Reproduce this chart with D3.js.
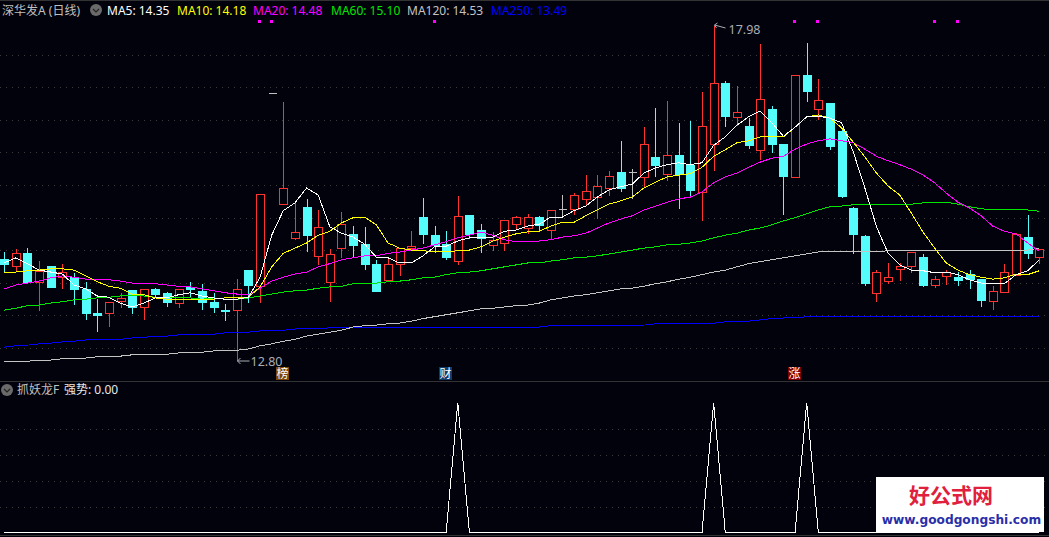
<!DOCTYPE html>
<html>
<head>
<meta charset="utf-8">
<script src="https://cdn.jsdelivr.net/npm/d3@7"></script>
<style>
  html, body { margin: 0; padding: 0; background: #02020c; overflow: hidden; }
  svg { display: block; }
  text { font-family: "Noto Sans", "Noto Sans CJK SC", sans-serif; font-size: 12px; }
</style>
</head>
<body>
<div id="viz"></div>
<script>
// daily candles
var opens = [14.36,14.25,14.45,14.01,14.25,14.08,14.08,13.90,13.53,13.53,13.71,13.88,13.62,13.90,13.84,13.68,13.93,13.87,13.70,13.57,13.57,14.19,13.94,16.93,15.21,14.69,15.17,14.41,14.01,14.53,14.75,14.59,14.29,14.04,14.29,14.53,15.01,14.73,14.59,14.33,15.04,14.81,14.58,14.61,14.90,14.84,15.01,14.81,15.14,15.14,15.29,15.32,15.46,15.71,15.71,15.63,15.94,15.68,15.97,15.82,15.40,16.14,17.08,16.56,16.42,16.05,16.68,16.14,15.63,17.21,16.68,16.77,16.34,15.15,14.72,13.84,14.02,14.21,14.25,14.39,13.96,14.10,14.08,14.13,14.05,13.71,13.85,14.12,14.70,14.39];
var closes = [14.29,14.45,14.01,14.18,13.93,14.16,13.90,13.53,13.50,13.70,13.76,13.62,13.90,13.82,13.70,13.90,13.90,13.70,13.62,13.56,13.90,13.96,15.37,16.93,15.46,14.78,14.73,14.86,14.44,14.90,14.58,14.29,13.87,14.29,14.53,14.56,14.75,14.58,14.39,15.03,14.75,14.69,14.66,14.96,15.01,15.01,14.89,15.12,15.14,15.35,15.41,15.49,15.65,15.46,15.71,16.14,15.82,15.97,15.68,15.43,16.42,17.08,16.57,16.63,16.12,16.84,16.14,15.65,17.21,16.96,16.82,16.11,15.34,14.75,13.99,14.16,14.08,14.25,14.47,13.96,14.05,14.16,14.04,14.05,13.73,13.87,14.16,14.75,14.45,14.52];
var highs = [14.49,14.53,14.55,14.35,14.27,14.30,14.16,14.02,13.76,13.70,13.85,13.90,13.90,13.93,13.87,13.90,14.02,13.99,13.85,13.68,14.07,14.19,15.37,16.93,16.80,15.24,15.31,15.14,14.53,15.11,14.89,14.87,14.36,14.38,14.53,14.81,15.32,14.89,14.81,15.35,15.06,14.92,14.79,14.96,15.04,15.07,15.04,15.14,15.37,15.40,15.68,15.68,15.74,16.20,15.77,16.42,16.71,16.82,16.48,16.51,16.96,17.98,17.13,17.05,16.56,17.70,16.74,16.14,17.21,17.72,17.16,16.77,16.37,15.18,14.75,14.21,14.32,14.32,14.47,14.45,14.12,14.21,14.18,14.21,14.05,13.96,14.30,14.78,15.06,14.52];
var lows = [14.18,14.19,13.99,13.57,13.93,13.91,13.67,13.44,13.25,13.33,13.62,13.53,13.44,13.77,13.64,13.62,13.79,13.59,13.54,13.42,12.80,13.70,13.70,16.93,15.21,14.67,14.49,14.29,13.71,14.39,14.41,14.21,13.87,14.04,14.12,14.50,14.61,14.47,14.36,14.29,14.69,14.47,14.50,14.50,14.83,14.76,14.81,14.69,15.04,15.06,15.21,15.00,15.35,15.41,15.31,15.48,15.65,15.58,15.15,15.35,14.96,15.74,16.42,16.43,16.08,15.91,16.02,15.06,15.63,16.80,16.53,16.06,15.32,14.45,13.96,13.71,13.99,14.04,14.16,13.94,13.93,13.98,13.96,13.91,13.64,13.59,13.85,14.12,14.38,14.30];

// moving averages
var ma5 = [14.30,14.38,14.29,14.19,14.16,14.13,13.96,13.90,13.79,13.77,13.68,13.62,13.68,13.76,13.76,13.81,13.84,13.79,13.76,13.74,13.74,13.77,14.08,14.73,15.11,15.23,15.46,15.35,14.86,14.76,14.70,14.59,14.39,14.38,14.30,14.30,14.41,14.55,14.56,14.64,14.69,14.69,14.70,14.79,14.81,14.87,14.90,15.01,15.01,15.11,15.18,15.32,15.43,15.48,15.52,15.69,15.77,15.82,15.85,15.82,15.85,16.12,16.25,16.43,16.56,16.65,16.47,16.26,16.40,16.56,16.57,16.54,16.47,16.02,15.46,14.86,14.45,14.27,14.19,14.18,14.15,14.16,14.12,14.04,13.99,13.98,13.98,14.12,14.18,14.35];
var ma10 = [14.16,14.16,14.18,14.19,14.21,14.21,14.19,14.10,14.01,13.94,13.91,13.82,13.81,13.76,13.74,13.73,13.73,13.74,13.74,13.76,13.76,13.77,13.93,14.24,14.45,14.53,14.61,14.73,14.79,14.92,15.00,15.01,14.89,14.61,14.53,14.50,14.49,14.47,14.47,14.49,14.50,14.55,14.64,14.70,14.75,14.78,14.79,14.87,14.93,14.93,15.03,15.12,15.21,15.26,15.32,15.46,15.55,15.63,15.66,15.68,15.78,15.95,16.05,16.16,16.19,16.25,16.26,16.25,16.40,16.56,16.59,16.54,16.39,16.17,15.94,15.69,15.49,15.35,15.07,14.78,14.53,14.30,14.19,14.12,14.08,14.05,14.07,14.13,14.12,14.18];
var ma20 = [13.90,13.96,13.99,14.02,14.07,14.10,14.08,14.05,14.04,14.04,14.02,13.99,13.98,13.98,13.96,13.94,13.93,13.90,13.87,13.84,13.82,13.81,13.91,14.02,14.08,14.13,14.16,14.24,14.29,14.35,14.38,14.41,14.41,14.45,14.47,14.50,14.53,14.58,14.63,14.69,14.73,14.78,14.73,14.66,14.63,14.64,14.64,14.66,14.70,14.72,14.76,14.84,14.92,14.98,15.03,15.12,15.18,15.24,15.29,15.32,15.40,15.54,15.63,15.69,15.78,15.86,15.92,15.95,16.06,16.14,16.19,16.22,16.19,16.16,16.06,15.95,15.88,15.82,15.75,15.66,15.54,15.38,15.24,15.15,15.03,14.87,14.79,14.75,14.61,14.48];
var ma60 = [13.57,13.60,13.64,13.65,13.68,13.70,13.73,13.74,13.76,13.77,13.79,13.79,13.79,13.77,13.76,13.76,13.76,13.74,13.76,13.74,13.74,13.76,13.79,13.82,13.85,13.87,13.88,13.91,13.93,13.94,13.98,13.98,13.99,14.01,14.02,14.04,14.07,14.08,14.12,14.15,14.16,14.18,14.21,14.24,14.27,14.30,14.30,14.33,14.35,14.38,14.39,14.41,14.44,14.47,14.50,14.53,14.55,14.58,14.59,14.61,14.64,14.69,14.73,14.76,14.81,14.84,14.89,14.95,15.00,15.06,15.12,15.17,15.18,15.20,15.20,15.20,15.20,15.21,15.21,15.23,15.23,15.24,15.21,15.17,15.14,15.12,15.12,15.12,15.12,15.10];
var ma120 = [12.77,12.77,12.78,12.80,12.80,12.82,12.83,12.83,12.85,12.85,12.86,12.88,12.88,12.89,12.89,12.91,12.91,12.92,12.94,12.94,12.95,12.97,13.02,13.05,13.09,13.12,13.17,13.20,13.23,13.26,13.31,13.33,13.34,13.36,13.37,13.40,13.44,13.47,13.50,13.53,13.56,13.59,13.60,13.62,13.64,13.65,13.68,13.73,13.76,13.79,13.81,13.84,13.87,13.90,13.91,13.94,13.98,14.01,14.05,14.08,14.12,14.16,14.19,14.24,14.29,14.32,14.35,14.38,14.41,14.44,14.47,14.47,14.47,14.47,14.47,14.47,14.49,14.49,14.49,14.50,14.49,14.49,14.49,14.49,14.49,14.50,14.50,14.50,14.50,14.53];
var ma250 = [13.00,13.02,13.03,13.05,13.06,13.08,13.09,13.11,13.12,13.12,13.12,13.14,13.15,13.17,13.17,13.19,13.19,13.20,13.20,13.22,13.22,13.23,13.25,13.25,13.26,13.28,13.28,13.28,13.30,13.30,13.30,13.30,13.30,13.30,13.30,13.30,13.30,13.30,13.30,13.30,13.31,13.31,13.31,13.31,13.31,13.31,13.31,13.33,13.33,13.33,13.33,13.33,13.34,13.34,13.34,13.34,13.36,13.36,13.36,13.37,13.37,13.37,13.39,13.39,13.40,13.42,13.44,13.45,13.45,13.47,13.47,13.47,13.47,13.47,13.47,13.47,13.47,13.47,13.47,13.47,13.47,13.47,13.47,13.47,13.47,13.47,13.47,13.47,13.47,13.48];

// lower panel
var strength = [0,0,0,0,0,0,0,0,0,0,0,0,0,0,0,0,0,0,0,0,0,0,0,0,0,0,0,0,0,0,0,0,0,0,0,0,0,0,0,100,0,0,0,0,0,0,0,0,0,0,0,0,0,0,0,0,0,0,0,0,0,100,0,0,0,0,0,0,0,100,0,0,0,0,0,0,0,0,0,0,0,0,0,0,0,0,0,0,0,0];

var gridPrices = [17.52,17.02,16.51,16.01,15.51,15.00,14.50,13.99,13.49,12.98];
var gridStrength = [20,40,60,80];

var signalDays = [22,23,37,68,70,80,82];
var signalPrice = 18.04;

var tagDays = [24,38,68];
var tagNames = ["榜","财","涨"];
var tagColors = ["#7d4406","#0f3a6b","#7c0000"];

var maNames = ["MA5","MA10","MA20","MA60","MA120","MA250"];
var maLast = ["14.35","14.18","14.48","15.10","14.53","13.49"];
var maSeries = [ma5,ma10,ma20,ma60,ma120,ma250];
var maColors = ["#ffffff","#ffff00","#ff00ff","#00e600","#c4c4c4","#0000ff"];
var maLabelX = [107,177,253,331,407,491];

var W = 1049, H = 537;
var bg = "#02020c", red = "#ff3232", cyan = "#54fcfc", grey = "#c0c0c0";

var x = d3.scaleLinear().domain([0,89]).range([4.2,1039.3]);
var y = d3.scaleLinear().domain([12.8,17.98]).range([360,25]);
var y2 = d3.scaleLinear().domain([0,100]).range([532.5,402.7]);

var svg = d3.select("#viz").append("svg").attr("width",W).attr("height",H);
svg.append("rect").attr("width",W).attr("height",H).attr("fill",bg);

// frame lines
[0.5,381.5,535.5].forEach(function(v) {
  svg.append("line").attr("x1",0).attr("x2",W).attr("y1",v).attr("y2",v)
    .attr("stroke","#333").attr("shape-rendering","crispEdges");
});

// dotted grid
function grid(vals, scale) {
  svg.append("g").selectAll("line").data(vals).enter().append("line")
    .attr("x1",0).attr("x2",W)
    .attr("y1",function(d){return Math.round(scale(d))+.5})
    .attr("y2",function(d){return Math.round(scale(d))+.5})
    .attr("stroke","#3c3c3c")
    .attr("stroke-dasharray","1,5")
    .attr("shape-rendering","crispEdges");
}
grid(gridPrices,y);
grid(gridStrength,y2);

// candles
var days = d3.range(opens.length);
function col(i) {
  if (closes[i] > opens[i]) return red;
  if (closes[i] < opens[i]) return cyan;
  return grey;
}
function cx(i) { return Math.round(x(i))+.5; }
function py(v) { return Math.round(y(v))+.5; }

var candles = svg.append("g").attr("shape-rendering","crispEdges");
days.forEach(function(i) {
  var top = Math.max(opens[i],closes[i]), bot = Math.min(opens[i],closes[i]);
  var c = col(i);
  if (highs[i] > top) candles.append("line").attr("x1",cx(i)).attr("x2",cx(i))
    .attr("y1",py(highs[i])).attr("y2",py(top)).attr("stroke",c);
  if (lows[i] < bot) candles.append("line").attr("x1",cx(i)).attr("x2",cx(i))
    .attr("y1",py(bot)).attr("y2",py(lows[i])).attr("stroke",c);
  if (top == bot) {
    candles.append("line").attr("x1",cx(i)-4).attr("x2",cx(i)+4)
      .attr("y1",py(top)).attr("y2",py(top)).attr("stroke",c);
  } else if (c == red) {
    candles.append("rect").attr("x",cx(i)-4).attr("y",py(top))
      .attr("width",8).attr("height",py(bot)-py(top))
      .attr("fill",bg).attr("stroke",c);
  } else {
    candles.append("rect").attr("x",cx(i)-4.5).attr("y",py(top)-.5)
      .attr("width",9).attr("height",Math.max(py(bot)-py(top)+1,2))
      .attr("fill",c);
  }
});

// moving average lines
var line = d3.line().x(function(d,i){return x(i)}).y(function(d){return y(d)});
var drawOrder = [5,4,3,2,1,0];
drawOrder.forEach(function(k) {
  svg.append("path").attr("d",line(maSeries[k])).attr("fill","none")
    .attr("stroke",maColors[k]).attr("stroke-width",1)
    .attr("shape-rendering","crispEdges");
});

// signal squares
svg.append("g").selectAll("rect").data(signalDays).enter().append("rect")
  .attr("x",function(d){return Math.round(x(d))-2})
  .attr("y",Math.round(y(signalPrice))-1)
  .attr("width",3).attr("height",3).attr("fill","#ff00ff");

// event tags
tagDays.forEach(function(d,k) {
  var tx = Math.round(x(d));
  svg.append("rect").attr("x",tx-7).attr("y",367).attr("width",13).attr("height",13)
    .attr("fill",tagColors[k]);
  svg.append("text").attr("x",tx-.5).attr("y",378).attr("text-anchor","middle")
    .attr("fill","#fff").style("font-size","12px").text(tagNames[k]);
});

// high / low notes
var noteColor = "#a9adb4";
var loX = cx(20), loY = y(12.8)+1;
svg.append("path").attr("d","M"+(loX+3)+","+(loY-3)+"L"+loX+","+loY+"L"+(loX+3)+","+(loY+3)+"M"+loX+","+loY+"H"+(loX+12))
  .attr("fill","none").attr("stroke",noteColor);
svg.append("text").attr("x",loX+13).attr("y",loY+5).attr("fill",noteColor).style("font-size","12.5px").text("12.80");
var hiX = cx(61), hiY = y(17.98);
svg.append("path").attr("d","M"+(hiX+3)+","+(hiY-2)+"L"+hiX+","+hiY+"L"+(hiX+2)+","+(hiY+3)+"M"+hiX+","+hiY+"L"+(hiX+11)+","+(hiY+3))
  .attr("fill","none").attr("stroke",noteColor);
svg.append("text").attr("x",hiX+14).attr("y",hiY+9).attr("fill",noteColor).style("font-size","12.5px").text("17.98");

// strength line
var line2 = d3.line().x(function(d,i){return x(i)}).y(function(d){return y2(d)});
svg.append("path").attr("d",line2(strength)).attr("fill","none")
  .attr("stroke","#fff").attr("stroke-width",1).attr("shape-rendering","crispEdges");

// titles
function chevron(cx0,cy0) {
  svg.append("circle").attr("cx",cx0).attr("cy",cy0).attr("r",6).attr("fill","#6a6a6a");
  svg.append("path").attr("d","M"+(cx0-3)+","+(cy0-1)+"L"+cx0+","+(cy0+2)+"L"+(cx0+3)+","+(cy0-1))
    .attr("fill","none").attr("stroke","#222").attr("stroke-width",1.2);
}
svg.append("text").attr("x",2).attr("y",15).attr("fill",grey).text("深华发A (日线)");
chevron(96,10);
maNames.forEach(function(n,k) {
  svg.append("text").attr("x",maLabelX[k]).attr("y",15).attr("fill",maColors[k])
    .text(n+": "+maLast[k]);
});
chevron(7,390);
svg.append("text").attr("x",17).attr("y",394).attr("fill",grey).text("抓妖龙F");
svg.append("text").attr("x",64).attr("y",394).attr("fill","#e8e8e8").text("强势: 0.00");

// watermark
svg.append("rect").attr("x",876).attr("y",477).attr("width",168).attr("height",55).attr("fill","#fff");
svg.append("text").attr("x",951).attr("y",503).attr("text-anchor","middle")
  .attr("fill","#e0203c").style("font-size","21px").style("font-weight","bold")
  .style("font-family","'Noto Sans CJK SC'").text("好公式网");
svg.append("text").attr("x",961.5).attr("y",524).attr("text-anchor","middle")
  .attr("fill","#2a2fa8").style("font-size","12.2px").style("font-weight","bold")
  .style("font-family","'DejaVu Sans'").text("www.goodgongshi.com");
</script>
</body>
</html>
